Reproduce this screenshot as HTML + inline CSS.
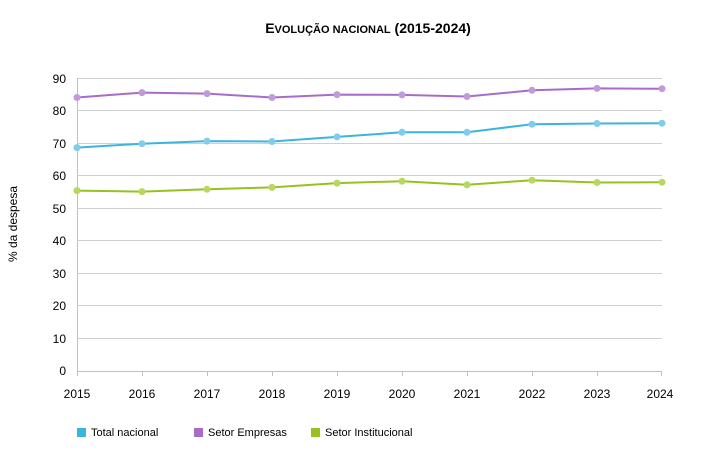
<!DOCTYPE html>
<html><head><meta charset="utf-8"><style>
body{margin:0;background:#fff;}
svg{display:block;font-family:"Liberation Sans",Arial,sans-serif;}
</style></head><body>
<svg width="715" height="463" viewBox="0 0 715 463">
<text x="368" y="33" text-anchor="middle" font-size="14" font-weight="bold" fill="#000">E<tspan font-size="11">VOLUÇÃO NACIONAL</tspan> (2015-2024)</text>
<g stroke="#d0d0d0" stroke-width="1">
<line x1="77" x2="662" y1="78.5" y2="78.5"/><line x1="77" x2="662" y1="110.5" y2="110.5"/>
<line x1="77" x2="662" y1="143.5" y2="143.5"/><line x1="77" x2="662" y1="175.5" y2="175.5"/>
<line x1="77" x2="662" y1="208.5" y2="208.5"/><line x1="77" x2="662" y1="240.5" y2="240.5"/>
<line x1="77" x2="662" y1="273.5" y2="273.5"/><line x1="77" x2="662" y1="305.5" y2="305.5"/>
<line x1="77" x2="662" y1="338.5" y2="338.5"/>
</g>
<g stroke="#c0c0c0" stroke-width="1">
<line x1="77" x2="662" y1="371.5" y2="371.5"/>
<line x1="77.5" x2="77.5" y1="78" y2="371"/>
<line x1="77.5" x2="77.5" y1="371" y2="376"/><line x1="142.5" x2="142.5" y1="371" y2="376"/>
<line x1="207.5" x2="207.5" y1="371" y2="376"/><line x1="272.5" x2="272.5" y1="371" y2="376"/>
<line x1="337.5" x2="337.5" y1="371" y2="376"/><line x1="402.5" x2="402.5" y1="371" y2="376"/>
<line x1="467.5" x2="467.5" y1="371" y2="376"/><line x1="532.5" x2="532.5" y1="371" y2="376"/>
<line x1="597.5" x2="597.5" y1="371" y2="376"/><line x1="661.5" x2="661.5" y1="371" y2="376"/>
</g>
<g font-size="12" fill="#000" text-anchor="end">
<text x="66" y="83">90</text><text x="66" y="115">80</text><text x="66" y="148">70</text>
<text x="66" y="180">60</text><text x="66" y="213">50</text><text x="66" y="245">40</text>
<text x="66" y="278">30</text><text x="66" y="310">20</text><text x="66" y="343">10</text>
<text x="66" y="375">0</text>
</g>
<g font-size="12" fill="#000" text-anchor="middle">
<text x="77" y="398">2015</text><text x="142" y="398">2016</text><text x="207" y="398">2017</text>
<text x="272" y="398">2018</text><text x="337" y="398">2019</text><text x="402" y="398">2020</text>
<text x="467" y="398">2021</text><text x="532" y="398">2022</text><text x="597" y="398">2023</text>
<text x="660" y="398">2024</text>
</g>
<text transform="translate(17,224) rotate(-90)" font-size="12" text-anchor="middle">% da despesa</text>
<g fill="none" stroke-width="2">
<polyline stroke="#a86cc8" points="77,97.5 142,92.6 207,93.6 272,97.5 337,94.6 402,94.9 467,96.5 532,90.3 597,88.4 662,88.7"/>
<polyline stroke="#3cb4e0" points="77,147.6 142,143.7 207,141.1 272,141.5 337,136.9 402,132.3 467,132.3 532,124.2 597,123.5 662,123.2"/>
<polyline stroke="#96c11f" points="77,190.6 142,191.6 207,189.3 272,187.4 337,183.1 402,181.2 467,184.8 532,180.2 597,182.5 662,182.2"/>
</g>
<g fill="#c39ad9">
<circle cx="77" cy="97.5" r="3.5"/><circle cx="142" cy="92.6" r="3.5"/><circle cx="207" cy="93.6" r="3.5"/><circle cx="272" cy="97.5" r="3.5"/><circle cx="337" cy="94.6" r="3.5"/><circle cx="402" cy="94.9" r="3.5"/><circle cx="467" cy="96.5" r="3.5"/><circle cx="532" cy="90.3" r="3.5"/><circle cx="597" cy="88.4" r="3.5"/><circle cx="662" cy="88.7" r="3.5"/>
</g>
<g fill="#7fcdea">
<circle cx="77" cy="147.6" r="3.5"/><circle cx="142" cy="143.7" r="3.5"/><circle cx="207" cy="141.1" r="3.5"/><circle cx="272" cy="141.5" r="3.5"/><circle cx="337" cy="136.9" r="3.5"/><circle cx="402" cy="132.3" r="3.5"/><circle cx="467" cy="132.3" r="3.5"/><circle cx="532" cy="124.2" r="3.5"/><circle cx="597" cy="123.5" r="3.5"/><circle cx="662" cy="123.2" r="3.5"/>
</g>
<g fill="#b7d85e">
<circle cx="77" cy="190.6" r="3.5"/><circle cx="142" cy="191.6" r="3.5"/><circle cx="207" cy="189.3" r="3.5"/><circle cx="272" cy="187.4" r="3.5"/><circle cx="337" cy="183.1" r="3.5"/><circle cx="402" cy="181.2" r="3.5"/><circle cx="467" cy="184.8" r="3.5"/><circle cx="532" cy="180.2" r="3.5"/><circle cx="597" cy="182.5" r="3.5"/><circle cx="662" cy="182.2" r="3.5"/>
</g>
<g font-size="11" fill="#000">
<rect x="77" y="428" width="9" height="9" fill="#3cb4e0"/><text x="91" y="436">Total nacional</text>
<rect x="194" y="428" width="9" height="9" fill="#a86cc8"/><text x="208" y="436">Setor Empresas</text>
<rect x="311" y="428" width="9" height="9" fill="#96c11f"/><text x="325" y="436">Setor Institucional</text>
</g>
</svg>
</body></html>
